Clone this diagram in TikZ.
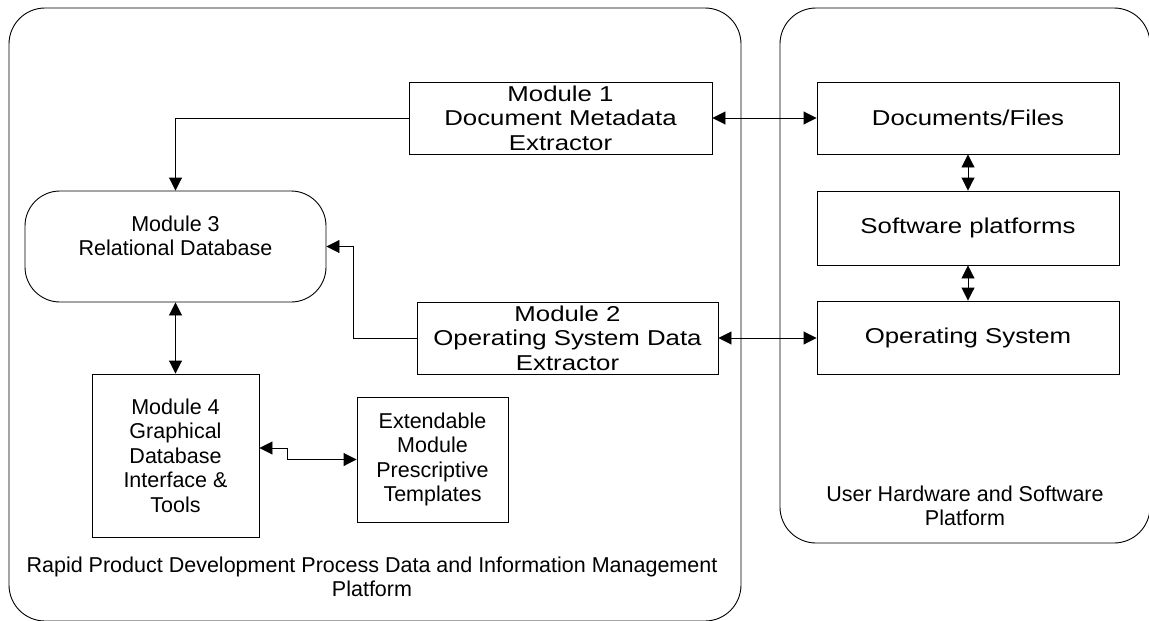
\documentclass[tikz,border=0pt]{standalone}
\usepackage{fontspec}
\setmainfont{Liberation Sans}
\newfontfamily\widefont{Liberation Sans}[FakeStretch=1.2]
\usetikzlibrary{positioning,arrows.meta}

\begin{document}
\begin{tikzpicture}[x=1pt, y=-1pt, >={Triangle[length=13pt,width=13pt]},
  font=\fontsize{21.5}{24.5}\selectfont, line width=0.9pt,
  box/.style={draw, align=center, inner sep=0pt},
  widebox/.style={box, font=\widefont\fontsize{21.5}{24.5}\selectfont},
  panel/.style={draw, rounded corners=36pt}]
\useasboundingbox (0,0) rectangle (1149,621);
% the two platforms
\draw[panel] (9,8) rectangle (741,621);
\draw[panel] (780,8) rectangle (1150,543);
\node[align=center] (rpdlbl) at (372,577) {Rapid Product Development Process Data and Information Management\\Platform};
\node[align=center] (userlbl) at (965,506) {User Hardware and Software\\Platform};
% modules
\node[widebox, minimum width=303pt, minimum height=72pt] (mod1) at (560.5,118) {Module 1\\Document Metadata\\Extractor};
\node[widebox, minimum width=301pt, minimum height=72pt] (mod2) at (567.5,338) {Module 2\\Operating System Data\\Extractor};
\node[box, rounded corners=35pt, text depth=22pt, minimum width=301pt, minimum height=111pt] (mod3) at (175.5,246.5) {Module 3\\Relational Database};
\node[box, minimum width=167pt, minimum height=163pt] (mod4) at (175.5,455.5) {Module 4\\Graphical\\Database\\Interface \&\\Tools};
\node[box, minimum width=151pt, minimum height=125pt] (ext) at (432.5,459.5) {Extendable\\Module\\Prescriptive\\Templates};
% user side
\node[widebox, minimum width=302pt, minimum height=72pt] (docs) at (968,118) {Documents/Files};
\node[widebox, minimum width=302pt, minimum height=74pt] (soft) at (968,228) {Software platforms};
\node[widebox, minimum width=302pt, minimum height=73pt] (os) at (968,337.5) {Operating System};
% connectors
\draw[->] (mod1.west) -| (mod3.north);
\draw[->] (mod2.west) -- ++(-63,0) |- (mod3.east);
\draw[<->] (mod1) -- (docs);
\draw[<->] (mod2.east) -- (os.west |- mod2.east);
\draw[<->] (docs) -- (soft);
\draw[<->] (soft) -- (os);
\draw[<->] (mod3) -- (mod4);
\coordinate (jog) at (287,448);
\draw[<->] (mod4.east |- jog) -- (jog) |- (ext.west);
\end{tikzpicture}
\end{document}
